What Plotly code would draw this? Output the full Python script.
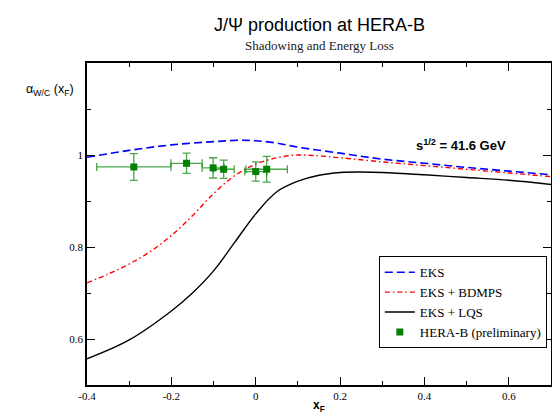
import plotly.graph_objects as go

# ---- data ----
eks_x = [-0.4, -0.3, -0.2, -0.1, -0.04, 0.0, 0.05, 0.1, 0.2, 0.3, 0.4, 0.5, 0.6, 0.7]
eks_y = [0.995, 1.010, 1.022, 1.029, 1.032, 1.031, 1.026, 1.017, 1.004, 0.991, 0.982, 0.973, 0.965, 0.957]

bdmps_x = [-0.4, -0.35, -0.3, -0.25, -0.2, -0.15, -0.1, -0.05, 0.0, 0.05, 0.1, 0.15, 0.2, 0.3, 0.4, 0.5, 0.6, 0.7]
bdmps_y = [0.722, 0.741, 0.763, 0.790, 0.825, 0.868, 0.916, 0.955, 0.980, 0.994, 1.000, 0.998, 0.994, 0.985, 0.977, 0.969, 0.961, 0.953]

lqs_x = [-0.4, -0.3, -0.2, -0.15, -0.1, -0.05, 0.0, 0.05, 0.1, 0.15, 0.2, 0.25, 0.3, 0.4, 0.5, 0.6, 0.7]
lqs_y = [0.557, 0.598, 0.661, 0.700, 0.748, 0.810, 0.872, 0.920, 0.943, 0.956, 0.962, 0.963, 0.962, 0.957, 0.951, 0.945, 0.936]

herab_x = [-0.289, -0.164, -0.101, -0.076, 0.0, 0.026]
herab_y = [0.974, 0.982, 0.972, 0.969, 0.964, 0.969]
herab_xerr = [0.088, 0.037, 0.026, 0.025, 0.026, 0.049]
herab_yerr = [0.029, 0.022, 0.022, 0.020, 0.021, 0.028]

x_ticks = [-0.4, -0.2, 0, 0.2, 0.4, 0.6]
x_tick_text = ["-0.4", "-0.2", "0", "0.2", "0.4", "0.6"]
x_minor = [-0.3, -0.1, 0.1, 0.3, 0.5]
y_ticks = [0.6, 0.8, 1.0]
y_tick_text = ["0.6", "0.8", "1"]
y_minor = [0.7, 0.9, 1.1]

serif = "Liberation Serif"
sans = "Liberation Sans"

fig = go.Figure()
fig.add_trace(go.Scatter(x=eks_x, y=eks_y, mode="lines", name="EKS",
                         line=dict(color="#0000ff", width=1.6, dash="8px,4px", shape="spline")))
fig.add_trace(go.Scatter(x=bdmps_x, y=bdmps_y, mode="lines", name="EKS + BDMPS",
                         line=dict(color="#ff0000", width=1.4, dash="5px,3px,1.5px,3px", shape="spline")))
fig.add_trace(go.Scatter(x=lqs_x, y=lqs_y, mode="lines", name="EKS + LQS",
                         line=dict(color="#000000", width=1.4, shape="spline")))
fig.add_trace(go.Scatter(x=herab_x, y=herab_y, mode="markers", name="HERA-B (preliminary)",
                         marker=dict(symbol="square", size=7, color="#008000"),
                         error_x=dict(type="data", array=herab_xerr, color="rgba(0,128,0,0.7)", thickness=1.3, width=4),
                         error_y=dict(type="data", array=herab_yerr, color="rgba(0,128,0,0.7)", thickness=1.3, width=4)))

axis_common = dict(showline=True, linecolor="black", linewidth=1.5, mirror="ticks",
                   ticks="inside", ticklen=8, tickwidth=1, tickcolor="black",
                   showgrid=False, zeroline=False,
                   tickfont=dict(family=serif, size=11, color="black"))

fig.update_xaxes(range=[-0.4, 0.7], tickmode="array", tickvals=x_ticks, ticktext=x_tick_text,
                 minor=dict(tickmode="array", tickvals=x_minor, ticks="inside", ticklen=4, tickcolor="black", tickwidth=1),
                 **axis_common)
fig.update_yaxes(range=[0.5, 1.2], tickmode="array", tickvals=y_ticks, ticktext=y_tick_text,
                 minor=dict(tickmode="array", tickvals=y_minor, ticks="inside", ticklen=4, tickcolor="black", tickwidth=1),
                 **axis_common)

fig.update_layout(
    width=560, height=412,
    margin=dict(l=78.5, r=17, t=54.5, b=34.5),
    paper_bgcolor="white", plot_bgcolor="white",
    showlegend=True,
    legend=dict(x=0.991, y=0.257, xanchor="right", yanchor="middle",
                bordercolor="black", borderwidth=1, bgcolor="white",
                font=dict(family=serif, size=13, color="black"),
                tracegroupgap=0, itemwidth=30),
    annotations=[
        dict(text="J/\u03a8 production at HERA-B", xref="paper", yref="paper", x=0.5, y=1.0,
             yshift=37.8, xanchor="center", yanchor="middle", showarrow=False,
             font=dict(family=sans, size=18, color="black")),
        dict(text="Shadowing and Energy Loss", xref="paper", yref="paper", x=0.5, y=1.0,
             yshift=17.8, xanchor="center", yanchor="middle", showarrow=False,
             font=dict(family=serif, size=13, color="#222222")),
        dict(text="\u03b1<sub>W/C</sub> (x<sub>F</sub>)", xref="paper", yref="paper", x=-0.079, y=0.915,
             xanchor="center", yanchor="middle", showarrow=False,
             font=dict(family=sans, size=12.5, color="black")),
        dict(text="<b>x<sub>F</sub></b>", xref="paper", yref="paper", x=0.5, y=0.0,
             yshift=-21, xanchor="center", yanchor="middle", showarrow=False,
             font=dict(family=sans, size=12, color="black")),
        dict(text="<b>s<sup>1/2</sup> = 41.6 GeV</b>", xref="paper", yref="paper", x=0.806, y=0.745,
             xanchor="center", yanchor="middle", showarrow=False,
             font=dict(family=sans, size=13, color="black")),
    ],
)

fig.write_html("out.html")
